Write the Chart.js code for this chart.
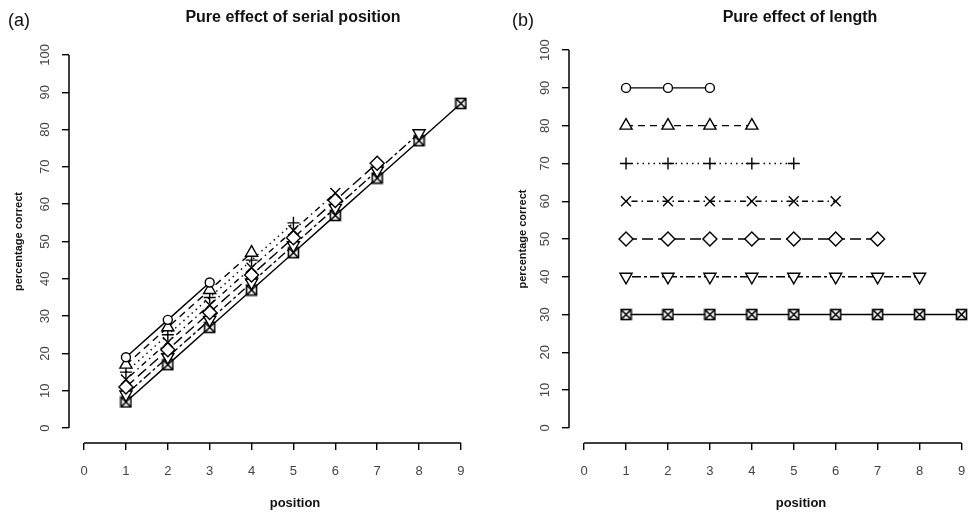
<!DOCTYPE html>
<html>
<head>
<meta charset="utf-8">
<script src="https://cdn.jsdelivr.net/npm/chart.js@4"></script>
<style>
  html, body { margin: 0; padding: 0; background: #fff; overflow: hidden; width: 970px; height: 513px; }
  canvas { position: absolute; top: 0; }
  #serialChart { left: 0; }
  #lengthChart { left: 500px; }
  .txt { position: absolute; font-family: "Liberation Sans", Arial, sans-serif; color: #111; white-space: nowrap; }
  .tag { font-size: 18px; line-height: 18px; top: 11px; }
  .title { font-weight: bold; font-size: 16px; line-height: 16px; top: 9px; transform: translateX(-50%); }
  .xlab { font-weight: bold; font-size: 13px; line-height: 13px; top: 496px; transform: translateX(-50%); }
</style>
</head>
<body>
<canvas id="serialChart" width="485" height="513"></canvas>
<canvas id="lengthChart" width="485" height="513"></canvas>
<div class="txt tag" style="left:8px">(a)</div>
<div class="txt tag" style="left:512px">(b)</div>
<div class="txt title" style="left:293px">Pure effect of serial position</div>
<div class="txt title" style="left:800px">Pure effect of length</div>
<div class="txt xlab" style="left:295px">position</div>
<div class="txt xlab" style="left:801px">position</div>
<script>
// Data
const positions = [1, 2, 3, 4, 5, 6, 7, 8, 9];
const xTicks = [0, 1, 2, 3, 4, 5, 6, 7, 8, 9];
const yTicks = [0, 10, 20, 30, 40, 50, 60, 70, 80, 90, 100];

// (a) percentage correct by position, one list per list length 3..9
const serialLen3 = [19, 29, 39];
const serialLen4 = [17, 27, 37, 47];
const serialLen5 = [15, 25, 35, 45, 55];
const serialLen6 = [13, 23, 33, 43, 53, 63];
const serialLen7 = [11, 21, 31, 41, 51, 61, 71];
const serialLen8 = [9, 19, 29, 39, 49, 59, 69, 79];
const serialLen9 = [7, 17, 27, 37, 47, 57, 67, 77, 87];

// (b) percentage correct by position, one list per list length 3..9
const lengthLen3 = [90, 90, 90];
const lengthLen4 = [80, 80, 80, 80];
const lengthLen5 = [70, 70, 70, 70, 70];
const lengthLen6 = [60, 60, 60, 60, 60, 60];
const lengthLen7 = [50, 50, 50, 50, 50, 50, 50];
const lengthLen8 = [40, 40, 40, 40, 40, 40, 40, 40];
const lengthLen9 = [30, 30, 30, 30, 30, 30, 30, 30, 30];

// boxed x marker (R pch 7)
function boxedX() {
  const c = document.createElement("canvas");
  c.width = 13;
  c.height = 13;
  const g = c.getContext("2d");
  g.strokeStyle = "#000";
  g.lineWidth = 1.6;
  g.fillStyle = "#fff";
  g.fillRect(1.5, 1.5, 10, 10);
  g.strokeRect(1.5, 1.5, 10, 10);
  g.beginPath();
  g.moveTo(1.5, 1.5); g.lineTo(11.5, 11.5);
  g.moveTo(11.5, 1.5); g.lineTo(1.5, 11.5);
  g.stroke();
  return c;
}

// line / marker style per list length (R lty 1..6,1 and pch 1..7)
const styles = [
  { marker: "circle", radius: 4.5, rot: 0, dash: [] },
  { marker: "triangle", radius: 7, rot: 0, dash: [7, 5] },
  { marker: "cross", radius: 6, rot: 0, dash: [1.5, 4] },
  { marker: "crossRot", radius: 7, rot: 0, dash: [1.5, 4, 6, 4] },
  { marker: "rectRot", radius: 7, rot: 0, dash: [11, 5] },
  { marker: "triangle", radius: 7, rot: 180, dash: [3, 3, 9, 3] },
  { marker: boxedX(), radius: 6, rot: 0, dash: [] },
];

const tickFont = { family: "'Liberation Sans', Arial", size: 13 };

// R style axis lines from first to last tick
const axisLines = {
  id: "axisLines",
  afterDatasetsDraw(chart) {
    const { ctx, chartArea } = chart;
    const x = chart.scales.x;
    const y = chart.scales.y;
    ctx.save();
    ctx.strokeStyle = "#000";
    ctx.lineWidth = 1.5;
    ctx.beginPath();
    ctx.moveTo(x.getPixelForValue(xTicks[0]), chartArea.bottom);
    ctx.lineTo(x.getPixelForValue(xTicks[xTicks.length - 1]), chartArea.bottom);
    ctx.moveTo(chartArea.left, y.getPixelForValue(yTicks[0]));
    ctx.lineTo(chartArea.left, y.getPixelForValue(yTicks[yTicks.length - 1]));
    ctx.stroke();
    ctx.restore();
  },
};

function makeChart(id, seriesList, area) {
  return new Chart(document.getElementById(id), {
    type: "line",
    data: {
      datasets: seriesList.map((values, i) => ({
        data: values.map((v, j) => ({ x: positions[j], y: v })),
        borderColor: "#000",
        borderWidth: 1.4,
        borderDash: styles[i].dash,
        pointStyle: styles[i].marker,
        pointRadius: styles[i].radius,
        pointRotation: styles[i].rot,
        pointBackgroundColor: "#fff",
        pointBorderColor: "#000",
        pointBorderWidth: 1.4,
        fill: false,
        tension: 0,
      })),
    },
    options: {
      responsive: false,
      animation: false,
      layout: { padding: { top: area.top, right: area.right, left: 0, bottom: 0 } },
      plugins: {
        legend: { display: false },
        tooltip: { enabled: false },
      },
      scales: {
        x: {
          type: "linear",
          min: -0.36,
          max: 9.36,
          afterBuildTicks: (s) => { s.ticks = xTicks.map((v) => ({ value: v })); },
          afterFit: (s) => { s.height = 513 - area.bottom; },
          border: { display: false },
          grid: { drawOnChartArea: false, drawTicks: true, tickLength: 7, color: "#000", lineWidth: 1.4 },
          ticks: { font: tickFont, color: "#444", padding: 14, autoSkip: false, maxRotation: 0 },
        },
        y: {
          type: "linear",
          min: -4,
          max: 104,
          afterBuildTicks: (s) => { s.ticks = yTicks.map((v) => ({ value: v })); },
          afterFit: (s) => { s.width = area.left; },
          border: { display: false },
          grid: { drawOnChartArea: false, drawTicks: true, tickLength: 7, color: "#000", lineWidth: 1.4 },
          ticks: { font: tickFont, color: "#444", padding: 6, autoSkip: false, minRotation: 90, maxRotation: 90, crossAlign: "center" },
          title: {
            display: true,
            text: "percentage correct",
            color: "#111",
            font: { family: "'Liberation Sans', Arial", size: 11, weight: "bold" },
            padding: { top: area.titlePad, bottom: 0 },
          },
        },
      },
    },
    plugins: [axisLines],
  });
}

makeChart(
  "serialChart",
  [serialLen3, serialLen4, serialLen5, serialLen6, serialLen7, serialLen8, serialLen9],
  { top: 40, bottom: 443, left: 69, right: 9, titlePad: 12 }
);
makeChart(
  "lengthChart",
  [lengthLen3, lengthLen4, lengthLen5, lengthLen6, lengthLen7, lengthLen8, lengthLen9],
  { top: 35, bottom: 443, left: 69, right: 8, titlePad: 16 }
);
</script>
</body>
</html>
